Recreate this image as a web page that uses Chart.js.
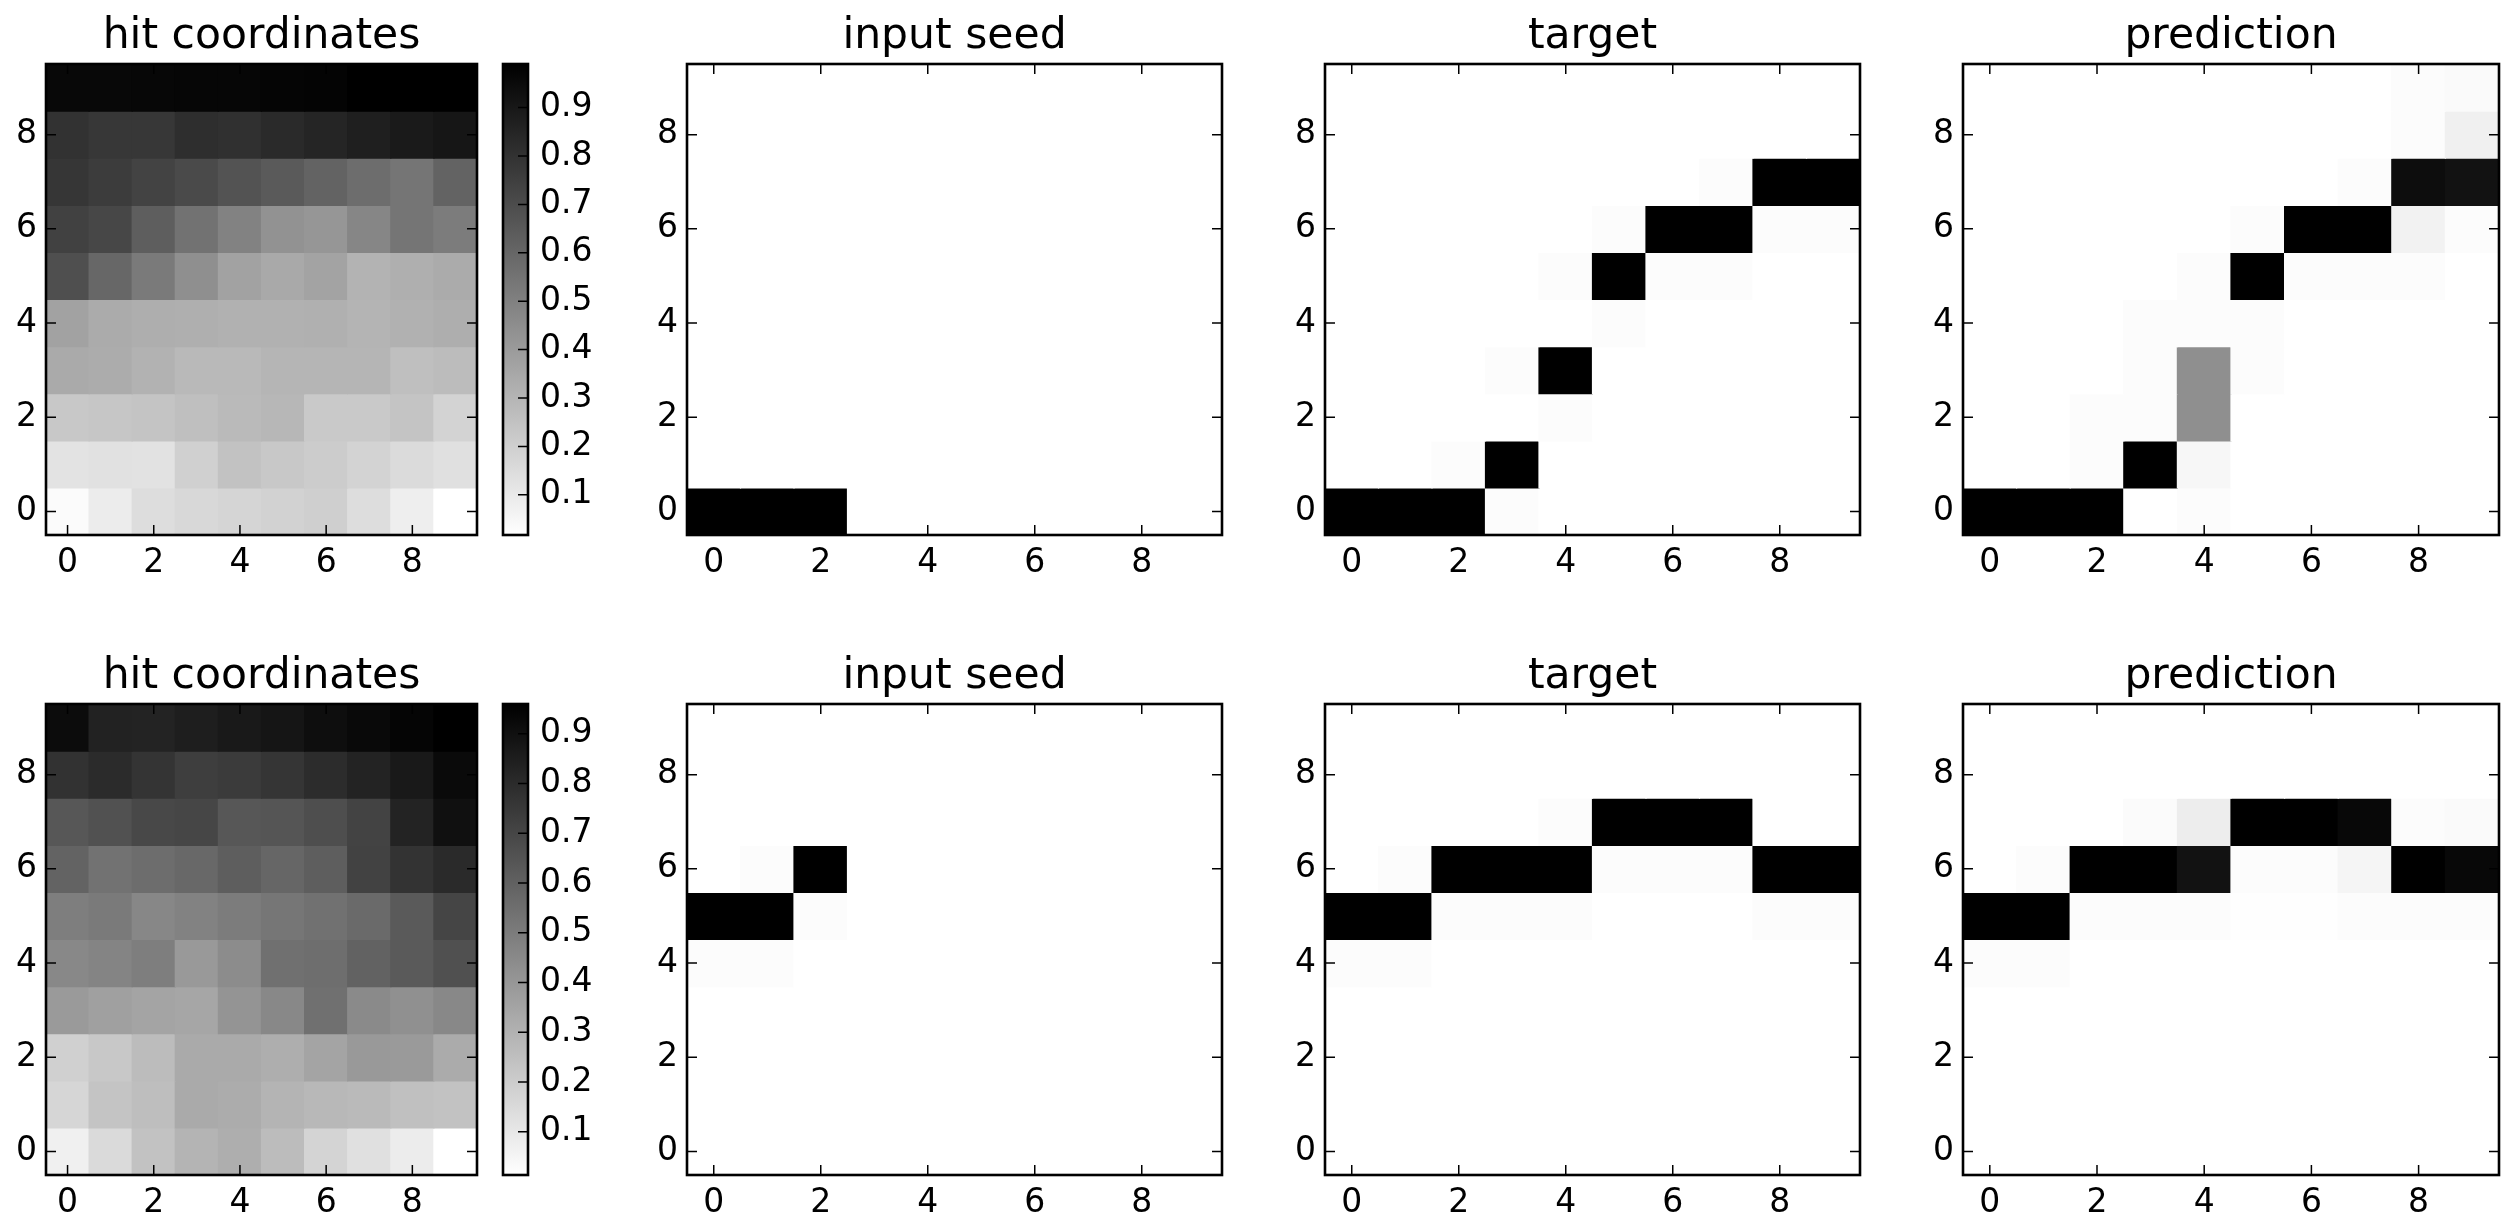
<!DOCTYPE html>
<html><head><meta charset="utf-8">
<script src="https://cdn.jsdelivr.net/npm/chart.js@4.4.1/dist/chart.umd.min.js"></script>
<style>
html,body{margin:0;padding:0;background:#fff;width:2512px;height:1217px;overflow:hidden}
canvas{position:absolute}
</style>
</head><body>
<script>
// ---------------- DATA ----------------
const panelTitles = ["hit coordinates", "input seed", "target", "prediction"];
const xTickValues = [0, 2, 4, 6, 8];
const yTickValues = [0, 2, 4, 6, 8];
const cbarTickValues = [0.1, 0.2, 0.3, 0.4, 0.5, 0.6, 0.7, 0.8, 0.9];
const cbarTickLabels = ["0.1", "0.2", "0.3", "0.4", "0.5", "0.6", "0.7", "0.8", "0.9"];

// rows listed from y = 9 (top) down to y = 0 (bottom); columns x = 0..9
const hitTop = [
  [0.96,0.96,0.963,0.967,0.967,0.971,0.975,0.99,0.99,0.99],
  [0.80,0.78,0.78,0.815,0.807,0.83,0.849,0.872,0.891,0.906],
  [0.784,0.761,0.734,0.708,0.674,0.647,0.612,0.575,0.543,0.612],
  [0.742,0.72,0.631,0.555,0.494,0.432,0.418,0.479,0.543,0.517],
  [0.69,0.597,0.525,0.444,0.372,0.345,0.368,0.307,0.322,0.337],
  [0.372,0.337,0.326,0.322,0.315,0.315,0.318,0.303,0.315,0.326],
  [0.341,0.334,0.311,0.284,0.284,0.299,0.299,0.299,0.261,0.273],
  [0.227,0.235,0.242,0.261,0.28,0.292,0.223,0.223,0.242,0.185],
  [0.124,0.131,0.128,0.196,0.25,0.227,0.211,0.185,0.154,0.135],
  [0.032,0.09,0.147,0.166,0.177,0.189,0.2,0.147,0.082,0.017]
];
const seedTop = [
  [0,0,0,0,0,0,0,0,0,0],
  [0,0,0,0,0,0,0,0,0,0],
  [0,0,0,0,0,0,0,0,0,0],
  [0,0,0,0,0,0,0,0,0,0],
  [0,0,0,0,0,0,0,0,0,0],
  [0,0,0,0,0,0,0,0,0,0],
  [0,0,0,0,0,0,0,0,0,0],
  [0,0,0,0,0,0,0,0,0,0],
  [0,0,0,0,0,0,0,0,0,0],
  [1,1,1,0,0,0,0,0,0,0]
];
const targetTop = [
  [0,0,0,0,0,0,0,0,0,0],
  [0,0,0,0,0,0,0,0,0,0],
  [0,0,0,0,0,0,0,0.01,1,1],
  [0,0,0,0,0,0.01,1,1,0.01,0.01],
  [0,0,0,0,0.01,1,0.01,0.01,0,0],
  [0,0,0,0,0,0.01,0,0,0,0],
  [0,0,0,0.01,1,0,0,0,0,0],
  [0,0,0,0,0.01,0,0,0,0,0],
  [0,0,0.01,1,0,0,0,0,0,0],
  [1,1,1,0.01,0,0,0,0,0,0]
];
const predTop = [
  [0,0,0,0,0,0,0,0,0.01,0.02],
  [0,0,0,0,0,0,0,0,0.01,0.06],
  [0,0,0,0,0,0,0,0.01,0.95,0.93],
  [0,0,0,0,0,0.01,1,1,0.05,0.01],
  [0,0,0,0,0.01,1,0.01,0.01,0.01,0],
  [0,0,0,0.01,0.01,0.01,0,0,0,0],
  [0,0,0,0.01,0.44,0.01,0,0,0,0],
  [0,0,0.01,0.01,0.44,0,0,0,0,0],
  [0,0,0.01,1,0.03,0,0,0,0,0],
  [1,1,1,0,0.01,0,0,0,0,0]
];

const hitBottom = [
  [0.915,0.834,0.83,0.848,0.867,0.882,0.908,0.927,0.941,0.96],
  [0.774,0.8,0.767,0.73,0.741,0.763,0.796,0.83,0.867,0.923],
  [0.637,0.659,0.693,0.7,0.637,0.645,0.67,0.711,0.83,0.9],
  [0.593,0.537,0.556,0.574,0.611,0.581,0.611,0.715,0.771,0.804],
  [0.492,0.507,0.459,0.477,0.5,0.522,0.54,0.566,0.626,0.703],
  [0.455,0.47,0.492,0.392,0.44,0.544,0.552,0.596,0.626,0.663],
  [0.388,0.366,0.351,0.343,0.411,0.455,0.544,0.448,0.425,0.455],
  [0.187,0.217,0.262,0.328,0.328,0.314,0.351,0.392,0.388,0.325],
  [0.165,0.232,0.254,0.328,0.321,0.291,0.276,0.27,0.247,0.24],
  [0.069,0.15,0.24,0.291,0.314,0.262,0.173,0.128,0.084,0.013]
];
const seedBottom = [
  [0,0,0,0,0,0,0,0,0,0],
  [0,0,0,0,0,0,0,0,0,0],
  [0,0,0,0,0,0,0,0,0,0],
  [0,0.01,1,0,0,0,0,0,0,0],
  [1,1,0.01,0,0,0,0,0,0,0],
  [0.01,0.01,0,0,0,0,0,0,0,0],
  [0,0,0,0,0,0,0,0,0,0],
  [0,0,0,0,0,0,0,0,0,0],
  [0,0,0,0,0,0,0,0,0,0],
  [0,0,0,0,0,0,0,0,0,0]
];
const targetBottom = [
  [0,0,0,0,0,0,0,0,0,0],
  [0,0,0,0,0,0,0,0,0,0],
  [0,0,0,0,0.01,1,1,1,0,0],
  [0,0.01,1,1,1,0.01,0.01,0.01,1,1],
  [1,1,0.01,0.01,0.01,0,0,0,0.01,0.01],
  [0.01,0.01,0,0,0,0,0,0,0,0],
  [0,0,0,0,0,0,0,0,0,0],
  [0,0,0,0,0,0,0,0,0,0],
  [0,0,0,0,0,0,0,0,0,0],
  [0,0,0,0,0,0,0,0,0,0]
];
const predBottom = [
  [0,0,0,0,0,0,0,0,0,0],
  [0,0,0,0,0,0,0,0,0,0],
  [0,0,0,0.015,0.07,1,1,0.97,0.01,0.02],
  [0,0.01,1,1,0.93,0.01,0.01,0.04,1,0.97],
  [1,1,0.01,0.01,0.01,0.005,0.005,0.01,0.01,0.01],
  [0.01,0.01,0,0,0,0,0,0,0,0],
  [0,0,0,0,0,0,0,0,0,0],
  [0,0,0,0,0,0,0,0,0,0],
  [0,0,0,0,0,0,0,0,0,0],
  [0,0,0,0,0,0,0,0,0,0]
];

// ---------------- STYLE / LAYOUT ----------------
const FONT = "'DejaVu Sans', 'Bitstream Vera Sans', sans-serif";
const TICK_FONT = 33, TITLE_FONT = 42.5;
const FRAME_W = 2.6, TICK_W = 1.5, TICK_LEN = 10;
const ROW_TOP = [64, 704];
const AX_H = 471;
const COLS = [
  {left: 46, width: 431},
  {left: 687, width: 535},
  {left: 1325, width: 535},
  {left: 1963, width: 536}
];
const CBAR = {left: 503, width: 25};
const PADL = 80, PADT = 70, PADR = 80, PADB = 60;
const TITLE_PAD_TOP = 22;

Chart.defaults.font.family = FONT;
Chart.defaults.color = '#000';

function grayR(v, vmin, vmax) {
  const t = vmax > vmin ? (v - vmin) / (vmax - vmin) : 0;
  const g = Math.round(255 * (1 - Math.max(0, Math.min(1, t))));
  return `rgb(${g},${g},${g})`;
}

const framePlugin = {
  id: 'frame',
  afterDatasetsDraw(chart, args, opts) {
    const {ctx, chartArea: a, scales} = chart;
    ctx.save();
    ctx.strokeStyle = '#000';
    ctx.lineWidth = TICK_W;
    ctx.beginPath();
    if (opts.xTicks) {
      for (const t of scales.x.ticks) {
        const px = scales.x.getPixelForValue(t.value);
        ctx.moveTo(px, a.bottom); ctx.lineTo(px, a.bottom - TICK_LEN);
        ctx.moveTo(px, a.top); ctx.lineTo(px, a.top + TICK_LEN);
      }
    }
    if (opts.yTicks) {
      for (const t of scales.y.ticks) {
        const py = scales.y.getPixelForValue(t.value);
        if (opts.left) { ctx.moveTo(a.left, py); ctx.lineTo(a.left + TICK_LEN, py); }
        ctx.moveTo(a.right, py); ctx.lineTo(a.right - TICK_LEN, py);
      }
    }
    ctx.stroke();
    ctx.lineWidth = FRAME_W;
    ctx.strokeRect(a.left, a.top, a.right - a.left, a.bottom - a.top);
    ctx.restore();
  }
};

function makeCanvas(left, top, w, h) {
  const c = document.createElement('canvas');
  c.width = w; c.height = h;
  c.style.left = left + 'px'; c.style.top = top + 'px';
  c.style.width = w + 'px'; c.style.height = h + 'px';
  document.body.appendChild(c);
  return c;
}

function heatmap(matrix, title, col, rowTop) {
  const flat = matrix.flat();
  const vmin = Math.min(...flat), vmax = Math.max(...flat);
  const n = matrix.length;
  const datasets = matrix.map((row, i) => {
    const y = n - 1 - i;
    return {
      data: row.map((v, x) => ({x: x, y: [y - 0.5, y + 0.5]})),
      backgroundColor: row.map(v => grayR(v, vmin, vmax)),
      borderWidth: 0,
      grouped: false,
      barPercentage: 1,
      categoryPercentage: 1,
      inflateAmount: 0.6
    };
  });
  const w = col.width + PADL + PADR, h = AX_H + PADT + PADB;
  const canvas = makeCanvas(col.left - PADL, rowTop - PADT, w, h);
  new Chart(canvas, {
    type: 'bar',
    data: {datasets},
    plugins: [framePlugin],
    options: {
      responsive: false,
      animation: false,
      events: [],
      layout: {padding: 0},
      plugins: {
        legend: {display: false},
        tooltip: {enabled: false},
        title: {
          display: true, text: title, color: '#000', align: 'center',
          font: {family: FONT, size: TITLE_FONT, weight: 'normal', lineHeight: 1},
          padding: {top: TITLE_PAD_TOP, bottom: PADT - TITLE_FONT - TITLE_PAD_TOP}
        },
        frame: {xTicks: true, yTicks: true, left: true}
      },
      scales: {
        x: {
          type: 'linear', position: 'bottom', min: -0.5, max: 9.5, offset: false,
          grid: {display: false, drawTicks: false}, border: {display: false},
          afterBuildTicks: s => { s.ticks = xTickValues.map(v => ({value: v})); },
          afterFit: s => { s.height = PADB; },
          ticks: {font: {size: TICK_FONT, family: FONT}, color: '#000', padding: 9, maxRotation: 0,
                  callback: v => String(v)}
        },
        y: {
          type: 'linear', position: 'left', min: -0.5, max: 9.5,
          grid: {display: false, drawTicks: false}, border: {display: false},
          afterBuildTicks: s => { s.ticks = yTickValues.map(v => ({value: v})); },
          afterFit: s => { s.width = PADL; },
          ticks: {font: {size: TICK_FONT, family: FONT}, color: '#000', padding: 9,
                  callback: v => String(v)}
        },
        yRightSpacer: {
          type: 'linear', position: 'right', display: true,
          grid: {display: false, drawTicks: false}, border: {display: false},
          ticks: {display: false},
          afterFit: s => { s.width = PADR; }
        }
      }
    }
  });
}

function colorbar(matrix, rowTop) {
  const flat = matrix.flat();
  const vmin = Math.min(...flat), vmax = Math.max(...flat);
  const CPADL = 10, CPADR = 80;
  const w = CBAR.width + CPADL + CPADR, h = AX_H + PADT + PADB;
  const canvas = makeCanvas(CBAR.left - CPADL, rowTop - PADT, w, h);
  new Chart(canvas, {
    type: 'bar',
    data: {
      labels: [''],
      datasets: [{
        data: [[vmin, vmax]],
        backgroundColor: (ctx) => {
          const chart = ctx.chart;
          const {chartArea, scales} = chart;
          if (!chartArea || !scales.y) return '#888';
          const g = chart.ctx.createLinearGradient(0, scales.y.getPixelForValue(vmin), 0, scales.y.getPixelForValue(vmax));
          g.addColorStop(0, '#ffffff');
          g.addColorStop(1, '#000000');
          return g;
        },
        borderWidth: 0, barPercentage: 1, categoryPercentage: 1, inflateAmount: 0.5
      }]
    },
    plugins: [framePlugin],
    options: {
      responsive: false, animation: false, events: [],
      layout: {padding: {left: CPADL, right: 0, top: PADT, bottom: PADB}},
      plugins: {
        legend: {display: false}, tooltip: {enabled: false},
        frame: {xTicks: false, yTicks: true, left: false}
      },
      scales: {
        x: {type: 'category', display: false},
        y: {
          type: 'linear', position: 'right', min: vmin, max: vmax,
          grid: {display: false, drawTicks: false}, border: {display: false},
          afterBuildTicks: s => { s.ticks = cbarTickValues.map(v => ({value: v})); },
          afterFit: s => { s.width = CPADR; },
          ticks: {font: {size: TICK_FONT, family: FONT}, color: '#000', padding: 12,
                  callback: (v, i) => cbarTickLabels[i]}
        }
      }
    }
  });
}

const rowsData = [
  [hitTop, seedTop, targetTop, predTop],
  [hitBottom, seedBottom, targetBottom, predBottom]
];
rowsData.forEach((mats, r) => {
  mats.forEach((m, c) => heatmap(m, panelTitles[c], COLS[c], ROW_TOP[r]));
  colorbar(mats[0], ROW_TOP[r]);
});
</script>
</body></html>
